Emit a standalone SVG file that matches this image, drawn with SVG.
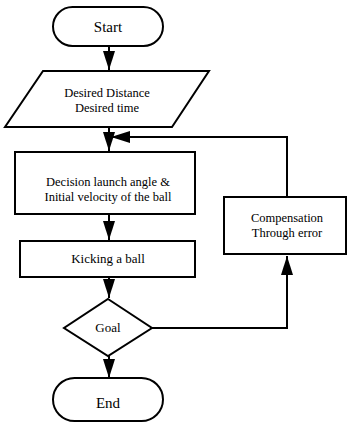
<svg xmlns="http://www.w3.org/2000/svg" width="347" height="423" viewBox="0 0 347 423">
<defs>
<style>
.s{fill:#fff;stroke:#000;stroke-width:2}
.t{font-family:"Liberation Serif","DejaVu Serif","Times New Roman",serif;font-size:13px;fill:#000;text-anchor:middle}
.m{font-size:12.5px}
.b{font-size:15px}
.c{fill:none;stroke:#000;stroke-width:2}
</style>
<marker id="ah" markerUnits="userSpaceOnUse" markerWidth="19" markerHeight="12" refX="19" refY="6" viewBox="0 0 19 12" orient="auto">
<path d="M0,0 L19,6 L0,12 Z" fill="#000"/>
</marker>
</defs>
<g id="connectors">
<path class="c" d="M109,46 V70" marker-end="url(#ah)"/>
<path class="c" d="M109,127 V151" marker-end="url(#ah)"/>
<path class="c" d="M287,197 V137 H111" marker-end="url(#ah)"/>
<path class="c" d="M109,214 V240" marker-end="url(#ah)"/>
<path class="c" d="M109,277 V298" marker-end="url(#ah)"/>
<path class="c" d="M152,328 H287 V256" marker-end="url(#ah)"/>
<path class="c" d="M109,356 V378" marker-end="url(#ah)"/>
</g>
<g id="start">
<rect class="s" x="53" y="7" width="110" height="39" rx="19.5"/>
<text class="t b" x="108" y="32">Start</text>
</g>
<g id="input">
<polygon class="s" points="43,71 209,71 172,127 5,127"/>
<text class="t m" x="107" y="97">Desired Distance</text>
<text class="t m" x="107" y="112">Desired time</text>
</g>
<g id="decision">
<rect class="s" x="15" y="152" width="180" height="62"/>
<text class="t m" x="108" y="186">Decision launch angle &amp;</text>
<text class="t m" x="108" y="201">Initial velocity of the ball</text>
</g>
<g id="kick">
<rect class="s" x="20" y="241" width="175" height="36"/>
<text class="t" x="108" y="263">Kicking a ball</text>
</g>
<g id="goal">
<polygon class="s" points="108,299 152,328 108,356 64,328"/>
<text class="t" x="108" y="332">Goal</text>
</g>
<g id="compensation">
<rect class="s" x="224" y="197" width="122" height="57"/>
<text class="t m" x="287" y="222">Compensation</text>
<text class="t m" x="287" y="237">Through error</text>
</g>
<g id="end">
<rect class="s" x="53" y="378" width="110" height="43" rx="21.5"/>
<text class="t b" x="108" y="408">End</text>
</g>
</svg>
